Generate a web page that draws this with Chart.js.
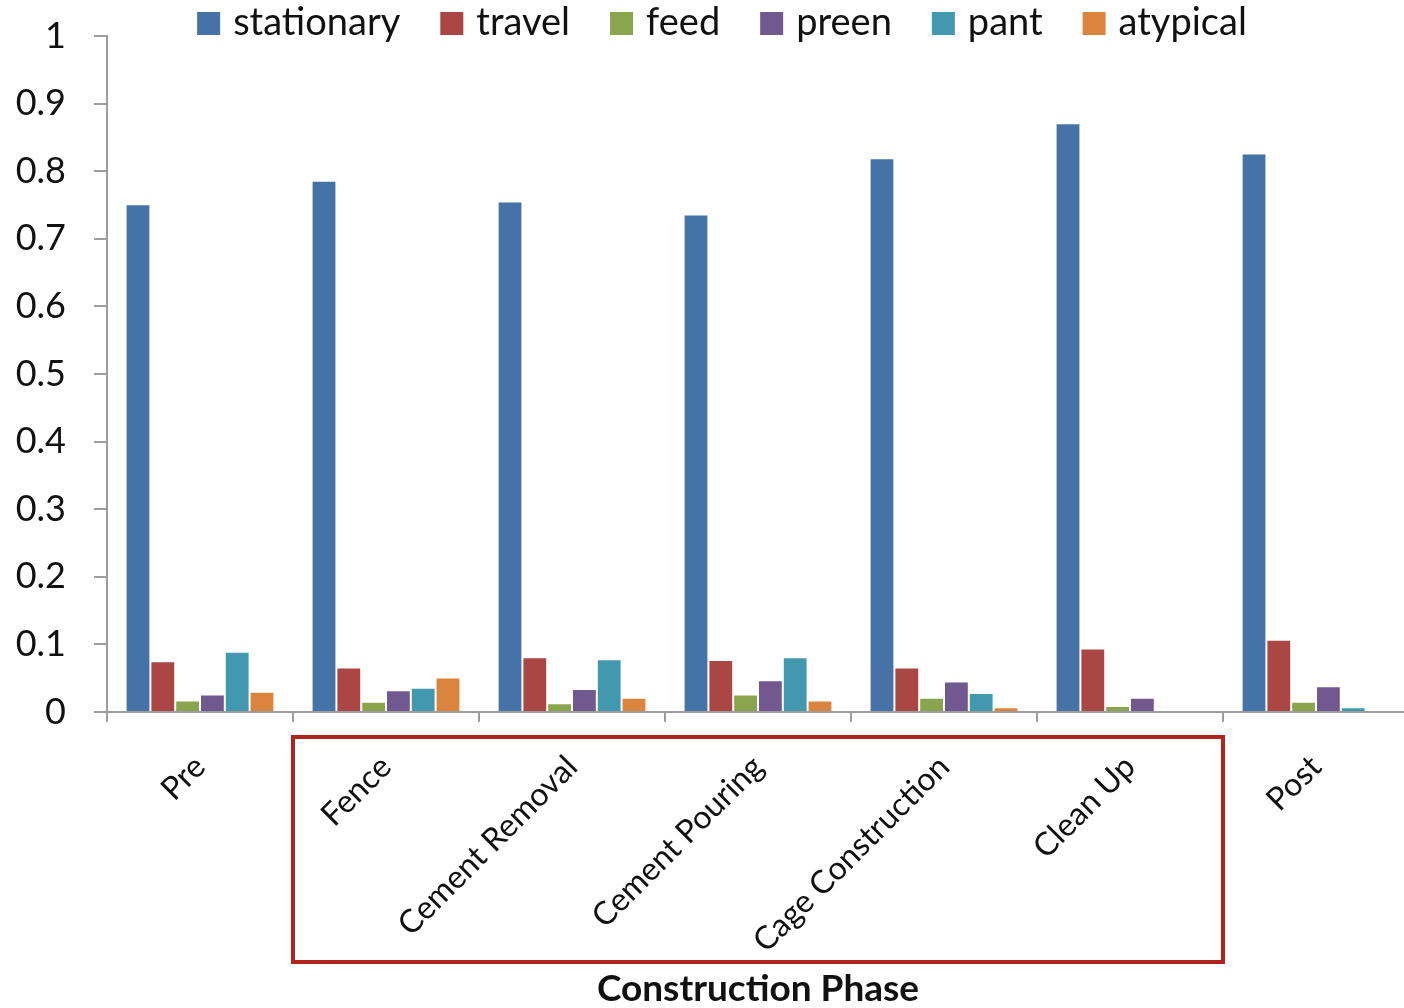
<!DOCTYPE html>
<html>
<head>
<meta charset="utf-8">
<script src="https://cdn.jsdelivr.net/npm/chart.js@4.4.1/dist/chart.umd.min.js"></script>
<style>
  html, body { margin: 0; padding: 0; background: #fff; overflow: hidden; }
  #wrap { width: 1409px; height: 1008px; position: relative; }
</style>
</head>
<body>
<div id="wrap"><canvas id="myChart"></canvas></div>
<script>
// proportion of time spent in each behaviour, per construction phase
var phases = ['Pre', 'Fence', 'Cement Removal', 'Cement Pouring', 'Cage Construction', 'Clean Up', 'Post'];

var stationary = [0.751, 0.786, 0.755, 0.736, 0.819, 0.871, 0.826];
var travel     = [0.075, 0.066, 0.081, 0.077, 0.066, 0.094, 0.107];
var feed       = [0.017, 0.015, 0.013, 0.026, 0.021, 0.009, 0.015];
var preen      = [0.026, 0.032, 0.034, 0.047, 0.045, 0.021, 0.038];
var pant       = [0.089, 0.036, 0.078, 0.081, 0.028, 0, 0.007];
var atypical   = [0.030, 0.051, 0.021, 0.017, 0.007, 0, 0];

var yTicks = [0, 0.1, 0.2, 0.3, 0.4, 0.5, 0.6, 0.7, 0.8, 0.9, 1];

var font = 'Lato, "Open Sans", sans-serif';
var axisGray = '#9d9d9d';

function series(label, values, color){
  return {
    label: label,
    data: values,
    backgroundColor: color,
    borderColor: 'rgba(255,255,255,0.5)',
    borderWidth: 1,
    categoryPercentage: 0.8,
    barPercentage: 1.0
  };
}

// one-row legend across the top: square swatch, label, fixed gap
var topLegend = {
  id: 'topLegend',
  afterDraw: function(chart){
    var c = chart.ctx;
    var sets = chart.data.datasets;
    var box = 23, textGap = 13, itemGap = 40;
    c.save();
    c.font = '38px ' + font;
    c.textBaseline = 'middle';
    c.textAlign = 'left';
    var widths = sets.map(function(d){ return c.measureText(d.label).width; });
    var total = 0;
    widths.forEach(function(w){ total += box + textGap + w; });
    total += itemGap * (sets.length - 1);
    var x = (chart.width + 35 - total) / 2;
    sets.forEach(function(d, i){
      c.fillStyle = d.backgroundColor;
      c.fillRect(x, 12, box, box);
      c.fillStyle = '#111';
      c.fillText(d.label, x + box + textGap, 23);
      x += box + textGap + widths[i] + itemGap;
    });
    c.restore();
  }
};

// box round the construction phases (Fence .. Clean Up), under the axis labels
var phaseBox = {
  id: 'phaseBox',
  afterDraw: function(chart){
    var x = chart.scales.x;
    var c = chart.ctx;
    var left = (x.getPixelForValue(0) + x.getPixelForValue(1)) / 2;
    var right = (x.getPixelForValue(5) + x.getPixelForValue(6)) / 2;
    var top = chart.chartArea.bottom + 25;
    var bottom = chart.chartArea.bottom + 250;
    c.save();
    c.strokeStyle = '#b0241e';
    c.lineWidth = 4;
    c.strokeRect(left, top, right - left, bottom - top);
    c.restore();
  }
};

var ctx = document.getElementById('myChart');

var myChart = new Chart(ctx, {
  type: 'bar',
  data: {
    labels: phases,
    datasets: [
      series('stationary', stationary, '#4572a7'),
      series('travel', travel, '#aa4643'),
      series('feed', feed, '#89a54e'),
      series('preen', preen, '#71588f'),
      series('pant', pant, '#4198af'),
      series('atypical', atypical, '#db843d')
    ]
  },
  options: {
    responsive: true,
    maintainAspectRatio: false,
    animation: false,
    layout: { padding: { left: 0, right: 0, top: 36, bottom: 0 } },
    plugins: {
      legend: { display: false },
      tooltip: { enabled: false }
    },
    scales: {
      x: {
        afterFit: function(scale){
          scale.height = 296;
          scale.paddingLeft = 0;
          scale.paddingRight = 0;
        },
        grid: {
          offset: true,
          drawOnChartArea: false,
          drawTicks: true,
          tickLength: 10,
          color: axisGray,
          lineWidth: 2
        },
        border: { color: axisGray, width: 2 },
        ticks: {
          color: '#111',
          autoSkip: false,
          minRotation: 45,
          maxRotation: 45,
          padding: 26,
          font: { size: 32, family: font }
        },
        title: {
          display: true,
          text: 'Construction Phase',
          color: '#111',
          font: { size: 37, weight: 'bold', family: font, lineHeight: 1 },
          padding: { top: 10, bottom: 0 }
        }
      },
      y: {
        min: 0,
        max: 1,
        afterFit: function(scale){
          scale.width = 107;
          scale.paddingTop = 0;
          scale.paddingBottom = 0;
        },
        afterBuildTicks: function(axis){
          axis.ticks = yTicks.map(function(v){ return { value: v }; });
        },
        grid: {
          drawOnChartArea: false,
          drawTicks: true,
          tickLength: 13,
          color: axisGray,
          lineWidth: 2
        },
        border: { color: axisGray, width: 2 },
        ticks: {
          color: '#111',
          padding: 28,
          font: { size: 36, family: font },
          callback: function(v){ return String(Math.round(v * 10) / 10); }
        }
      }
    }
  },
  plugins: [topLegend, phaseBox]
});
</script>
</body>
</html>
